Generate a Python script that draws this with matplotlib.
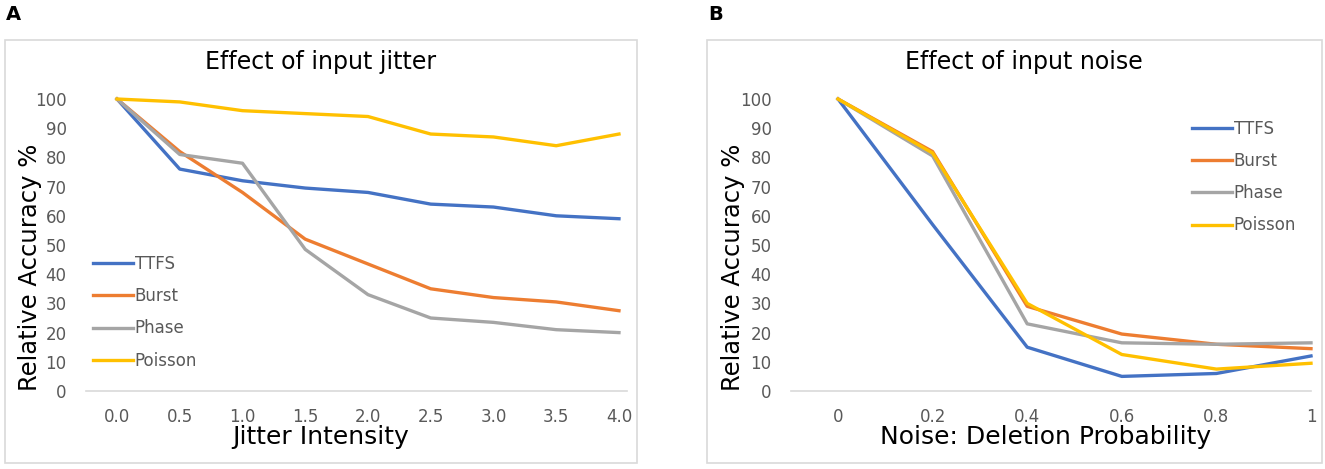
import matplotlib.pyplot as plt
from matplotlib.patches import Rectangle

# data
jitter = [0.0, 0.5, 1.0, 1.5, 2.0, 2.5, 3.0, 3.5, 4.0]
jitter_labels = ['0.0', '0.5', '1.0', '1.5', '2.0', '2.5', '3.0', '3.5', '4.0']
jit_ttfs = [100, 76, 72, 69.5, 68, 64, 63, 60, 59]
jit_burst = [100, 82, 68, 52, 43.5, 35, 32, 30.5, 27.5]
jit_phase = [100, 81, 78, 48.5, 33, 25, 23.5, 21, 20]
jit_poisson = [100, 99, 96, 95, 94, 88, 87, 84, 88]

noise = [0, 0.2, 0.4, 0.6, 0.8, 1]
noise_labels = ['0', '0.2', '0.4', '0.6', '0.8', '1']
noi_ttfs = [100, 57, 15, 5, 6, 12]
noi_burst = [100, 82, 29, 19.5, 16, 14.5]
noi_phase = [100, 80.5, 23, 16.5, 16, 16.5]
noi_poisson = [100, 81.5, 30, 12.5, 7.5, 9.5]

names = ['TTFS', 'Burst', 'Phase', 'Poisson']
colors = ['#4472C4', '#ED7D31', '#A5A5A5', '#FFC000']

tick_col = '#595959'

W, H = 1325, 469
fig = plt.figure(figsize=(W / 100, H / 100), dpi=100)


def fx(px):
    return px / W


def fy(py):
    return 1 - py / H


def panel(box, axbox, xs, xlabels, series, xlim, title, title_x, xlabel, xlabel_x,
          ylabel_x, leg_anchor, letter, letter_x):
    # chart frame like an Excel chart area
    x0, y0, x1, y1 = box
    fig.patches.append(Rectangle((fx(x0), fy(y1)), fx(x1 - x0), (y1 - y0) / H,
                                 transform=fig.transFigure, fill=False,
                                 edgecolor='#d9d9d9', linewidth=1.2))
    l, t, r, b = axbox
    ax = fig.add_axes([fx(l), fy(b), fx(r - l), (b - t) / H])
    for ys, name, c in zip(series, names, colors):
        ax.plot(xs, ys, color=c, linewidth=2.4, label=name, clip_on=False,
                solid_joinstyle='round')
    ax.set_xlim(*xlim)
    ax.set_ylim(0, 100)
    ax.set_yticks(range(0, 101, 10))
    ax.set_xticks(xs)
    ax.set_xticklabels(xlabels)
    for s in ['top', 'right', 'left']:
        ax.spines[s].set_visible(False)
    ax.spines['bottom'].set_color('#d9d9d9')
    ax.spines['bottom'].set_linewidth(1.2)
    ax.tick_params(length=0, labelcolor=tick_col, labelsize=12)
    ax.tick_params(axis='x', pad=12)
    ax.tick_params(axis='y', pad=14)
    ax.set_xlabel(xlabel, fontsize=18)
    ax.xaxis.set_label_coords(fx(xlabel_x), fy(437), transform=fig.transFigure)
    ax.xaxis.label.set_va('center')
    ax.set_ylabel('Relative Accuracy %', fontsize=17.5)
    ax.yaxis.set_label_coords(fx(ylabel_x), fy(267), transform=fig.transFigure)
    ax.yaxis.label.set_va('center')
    fig.text(fx(title_x), fy(62), title, fontsize=17, ha='center', va='center')
    leg = ax.legend(loc='upper left', bbox_to_anchor=(fx(leg_anchor[0]), fy(leg_anchor[1])),
                    bbox_transform=fig.transFigure, frameon=False, fontsize=12,
                    handlelength=2.4, handletextpad=0.1, labelspacing=0.85,
                    borderaxespad=0, borderpad=0)
    for txt in leg.get_texts():
        txt.set_color(tick_col)
    fig.text(fx(letter_x), fy(15), letter, fontsize=14, fontweight='bold',
             ha='left', va='center')
    return ax


panel((5, 40, 637, 463), (86, 99, 627, 391), jitter, jitter_labels,
      [jit_ttfs, jit_burst, jit_phase, jit_poisson], (-0.247, 4.064),
      'Effect of input jitter', 321, 'Jitter Intensity', 321, 30,
      (93, 255), 'A', 6)

panel((707, 40, 1322, 463), (791, 99, 1311, 391), noise, noise_labels,
      [noi_ttfs, noi_burst, noi_phase, noi_poisson], (-0.0994, 1.0),
      'Effect of input noise', 1024, 'Noise: Deletion Probability', 1046, 733,
      (1192, 120), 'B', 708)

fig.savefig('out.png', dpi=100)
